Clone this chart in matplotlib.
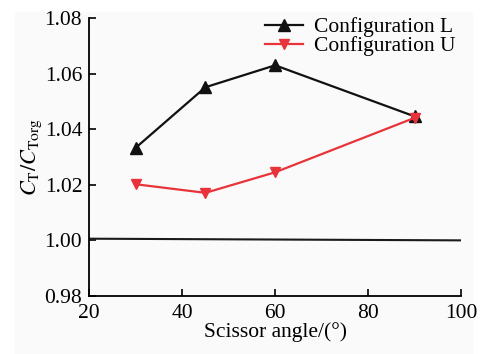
import matplotlib.pyplot as plt
from matplotlib.patches import Rectangle

# scissor angle (deg) and thrust ratio C_T / C_Torg
angles = [30, 45, 60, 90]
config_l = [1.0333, 1.0551, 1.0630, 1.0446]
config_u = [1.0202, 1.0171, 1.0245, 1.0441]
# original-rotor reference line
ref_x = [20, 100]
ref_y = [1.0006, 1.0000]

plt.rcParams['font.family'] = ['Liberation Serif', 'DejaVu Serif']
plt.rcParams['mathtext.fontset'] = 'stix'

fig = plt.figure(figsize=(4.87, 3.54), dpi=100)
fig.patches.append(Rectangle((15 / 487, 0), 1 - 30 / 487, 1 - 12 / 354,
                             transform=fig.transFigure, color='#fafafa', zorder=-1))
ax = fig.add_axes([0.183, 0.164, 0.764, 0.785])
ax.set_facecolor('#fafafa')

ax.plot(ref_x, ref_y, color='#1a1a1a', lw=1.5)
ax.plot(angles, config_l, '-^', color='#111111', lw=1.6, ms=8.5, label='Configuration L')
ax.plot(angles, config_u, '-v', color='#e8333a', lw=1.6, ms=7.5, label='Configuration U')

ax.set_xlim(20, 100)
ax.set_ylim(0.98, 1.08)
ax.set_xticks([20, 40, 60, 80, 100])
ax.set_yticks([0.98, 1.00, 1.02, 1.04, 1.06, 1.08])
ax.yaxis.set_major_formatter(plt.FormatStrFormatter('%.2f'))
ax.tick_params(direction='in', labelsize=15.5, length=5, width=1.2)
ax.tick_params(axis='x', pad=6)
ax.tick_params(axis='y', pad=5)
for side in ['top', 'right']:
    ax.spines[side].set_visible(False)
for side in ['left', 'bottom']:
    ax.spines[side].set_linewidth(1.3)

ax.set_xlabel('Scissor angle/(°)', fontsize=15.5, labelpad=-1)
ax.set_ylabel(r'$C_{\mathrm{T}}/C_{\mathrm{Torg}}$', fontsize=16, labelpad=0)

ax.legend(loc='upper right', bbox_to_anchor=(1.02, 1.05), frameon=False, fontsize=15.5,
          handlelength=1.8, handletextpad=0.5, labelspacing=-0.05, borderaxespad=0.2)

fig.savefig('out.png', dpi=100)
